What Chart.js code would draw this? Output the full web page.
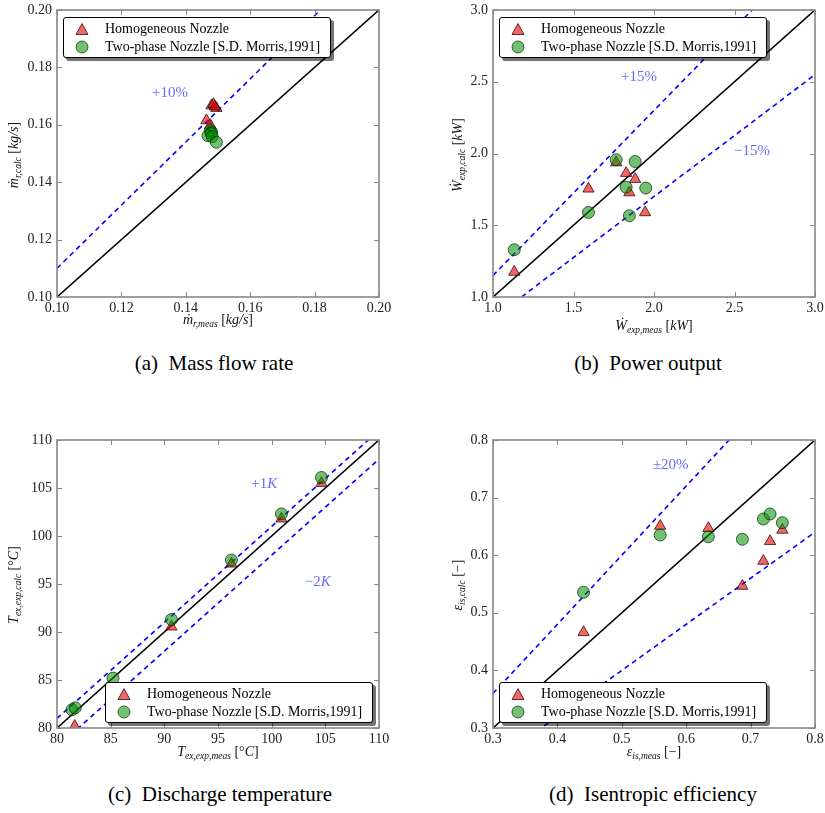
<!DOCTYPE html>
<html>
<head>
<meta charset="utf-8">
<script src="https://cdn.jsdelivr.net/npm/chart.js@4.4.1/dist/chart.umd.min.js"></script>
<style>
    body { margin: 0; background: #fff; }
    #page { position: relative; width: 825px; height: 813px; overflow: hidden; font-family: 'Liberation Serif', serif; }
    .panel { position: absolute; }
    .txt { position: absolute; white-space: nowrap; color: #111; transform: translate(-50%, -50%); }
    .ax { font-size: 14px; }
    .ax i { font-style: italic; }
    .ax sub { font-size: 9.5px; font-style: italic; vertical-align: -3px; line-height: 0; }
    .rot { transform: translate(-50%, -50%) rotate(-90deg); }
    .cap { font-size: 21px; color: #000; }
    .legend { position: absolute; width: 268px; height: 41px; border: 1px solid #000; border-radius: 3px;
              background: #fff; box-shadow: 3px 3px 0 rgba(0, 0, 0, 0.55); font-size: 14px; box-sizing: border-box; }
    .legend .row { position: absolute; left: 0; height: 18px; line-height: 18px; }
    .legend svg { position: absolute; top: 2px; }
    .legend span { position: absolute; left: 41px; top: 0; white-space: nowrap; }
</style>
</head>
<body>
<div id="page"></div>
<script>
// series names
var SERIES = ['Homogeneous Nozzle', 'Two-phase Nozzle [S.D. Morris,1991]'];

// (a) mass flow rate [kg/s]
var aHomMeas = [0.1480, 0.1486, 0.1495, 0.1490, 0.1464, 0.1476];
var aHomCalc = [0.1667, 0.1672, 0.1658, 0.1663, 0.1615, 0.1599];
var aTwoMeas = [0.1476, 0.1480, 0.1478, 0.1469, 0.1482, 0.1495];
var aTwoCalc = [0.1580, 0.1575, 0.1570, 0.1562, 0.1559, 0.1539];
var aTicks = [0.10, 0.12, 0.14, 0.16, 0.18, 0.20];
var aRatios = [1.10];

// (b) power output [kW]
var bHomMeas = [1.765, 1.827, 1.883, 1.847, 1.593, 1.945, 1.132];
var bHomCalc = [1.937, 1.863, 1.821, 1.728, 1.754, 1.589, 1.174];
var bTwoMeas = [1.765, 1.883, 1.827, 1.949, 1.593, 1.847, 1.132];
var bTwoCalc = [1.956, 1.944, 1.765, 1.759, 1.589, 1.566, 1.329];
var bTicks = [1.0, 1.5, 2.0, 2.5, 3.0];
var bRatios = [1.15, 0.85];

// (c) discharge temperature [°C]
var cHomMeas = [81.65, 90.66, 96.25, 100.91, 104.64];
var cHomCalc = [80.20, 90.55, 97.10, 101.80, 105.50];
var cTwoMeas = [81.40, 81.70, 85.22, 90.66, 96.25, 100.91, 104.64];
var cTwoCalc = [81.90, 82.10, 85.20, 91.30, 97.50, 102.30, 106.10];
var cTicks = [80, 85, 90, 95, 100, 105, 110];
var cOffsets = [1, -2];

// (d) isentropic efficiency [-]
var dHomMeas = [0.5596, 0.6345, 0.4406, 0.7302, 0.7493, 0.7198, 0.6872];
var dHomCalc = [0.6507, 0.6467, 0.4661, 0.6241, 0.6438, 0.5899, 0.5465];
var dTwoMeas = [0.5596, 0.6345, 0.4406, 0.7198, 0.7302, 0.7493, 0.6872];
var dTwoCalc = [0.6350, 0.6320, 0.5356, 0.6628, 0.6715, 0.6564, 0.6276];
var dTicks = [0.3, 0.4, 0.5, 0.6, 0.7, 0.8];
var dRatios = [1.2, 0.8];

var FRAME = 'rgb(135,135,135)';
var TEXT_BLUE = 'rgba(40,40,255,0.7)';

function zip(xs, ys) {
    return xs.map(function (x, i) { return {x: x, y: ys[i]}; });
}

// inward tick marks on all four sides + gray frame
var framePlugin = {
    id: 'frame',
    afterDatasetsDraw: function (chart) {
        var ctx = chart.ctx, a = chart.chartArea, len = 5;
        ctx.save();
        ctx.strokeStyle = FRAME;
        ctx.lineWidth = 1;
        chart.scales.x.ticks.forEach(function (t) {
            var px = Math.round(chart.scales.x.getPixelForValue(t.value)) + 0.5;
            ctx.beginPath();
            ctx.moveTo(px, a.bottom); ctx.lineTo(px, a.bottom - len);
            ctx.moveTo(px, a.top); ctx.lineTo(px, a.top + len);
            ctx.stroke();
        });
        chart.scales.y.ticks.forEach(function (t) {
            var py = Math.round(chart.scales.y.getPixelForValue(t.value)) + 0.5;
            ctx.beginPath();
            ctx.moveTo(a.left, py); ctx.lineTo(a.left + len, py);
            ctx.moveTo(a.right, py); ctx.lineTo(a.right - len, py);
            ctx.stroke();
        });
        ctx.lineWidth = 1.6;
        ctx.strokeRect(a.left, a.top, a.right - a.left, a.bottom - a.top);
        ctx.restore();
    }
};

// band labels placed in data coordinates
var notePlugin = {
    id: 'notes',
    afterDatasetsDraw: function (chart, args, opts) {
        var ctx = chart.ctx;
        ctx.save();
        ctx.fillStyle = TEXT_BLUE;
        ctx.textBaseline = 'middle';
        (opts.items || []).forEach(function (n) {
            var px = chart.scales.x.getPixelForValue(n.x);
            var py = chart.scales.y.getPixelForValue(n.y);
            var unit = n.k || '';
            ctx.textAlign = 'left';
            ctx.font = '15px "Liberation Serif"';
            var w1 = ctx.measureText(n.text).width;
            ctx.font = 'italic 15px "Liberation Serif"';
            var w2 = ctx.measureText(unit).width;
            var x0 = px - (w1 + w2) / 2;
            ctx.font = '15px "Liberation Serif"';
            ctx.fillText(n.text, x0, py);
            if (unit) {
                // unit letter in italic like the math text
                ctx.font = 'italic 15px "Liberation Serif"';
                ctx.fillText(unit, x0 + w1, py);
            }
        });
        ctx.restore();
    }
};

function refLine(x0, y0, x1, y1, dashed) {
    return {
        type: 'line', label: '', order: 3,
        data: [{x: x0, y: y0}, {x: x1, y: y1}],
        borderColor: dashed ? '#0000ff' : '#000',
        borderWidth: 1.6,
        borderDash: dashed ? [5, 4] : [],
        pointRadius: 0, fill: false
    };
}

function makePanel(p) {
    var page = document.getElementById('page');
    var div = document.createElement('div');
    div.className = 'panel';
    div.style.left = p.left + 'px';
    div.style.top = p.top + 'px';
    var cv = document.createElement('canvas');
    cv.width = p.w; cv.height = p.h;
    cv.style.width = p.w + 'px'; cv.style.height = p.h + 'px';
    div.appendChild(cv);
    page.appendChild(div);

    var lo = p.ticks[0], hi = p.ticks[p.ticks.length - 1];
    var datasets = [refLine(lo, lo, hi, hi, false)];
    p.lines.forEach(function (l) { datasets.push(refLine(lo, l(lo), hi, l(hi), true)); });
    datasets.push({
        label: SERIES[0], order: 2, data: zip(p.hx, p.hy),
        pointStyle: 'triangle', pointRadius: 6.5, pointHoverRadius: 6.5,
        backgroundColor: 'rgba(235,0,0,0.6)', borderColor: 'rgba(40,0,0,0.75)', borderWidth: 1
    });
    datasets.push({
        label: SERIES[1], order: 1, data: zip(p.tx, p.ty),
        pointStyle: 'circle', pointRadius: 6, pointHoverRadius: 6,
        backgroundColor: 'rgba(0,140,0,0.55)', borderColor: 'rgba(0,40,0,0.7)', borderWidth: 1
    });

    function axis(yw, xh) {
        return {
            type: 'linear', min: lo, max: hi,
            afterBuildTicks: function (s) { s.ticks = p.ticks.map(function (v) { return {value: v}; }); },
            afterFit: function (s) {
                if (yw) { s.width = yw; } else { s.height = xh; }
                s.paddingTop = 0; s.paddingBottom = 0; s.paddingLeft = 0; s.paddingRight = 0;
            },
            ticks: {
                font: {family: 'Liberation Serif', size: 14}, color: '#222', padding: yw ? 5 : 3,
                autoSkip: false, maxRotation: 0,
                callback: function (v) { return Number(v).toFixed(p.dec); }
            },
            grid: {display: false, drawTicks: false},
            border: {display: false}
        };
    }

    return new Chart(cv, {
        type: 'scatter',
        data: {datasets: datasets},
        options: {
            responsive: false, animation: false, devicePixelRatio: 1,
            layout: {padding: {top: 10, right: p.padRight, left: 0, bottom: 0}},
            scales: {x: axis(0, p.xh), y: axis(p.yw, 0)},
            plugins: {legend: {display: false}, tooltip: {enabled: false}, notes: {items: p.notes}}
        },
        plugins: [framePlugin, notePlugin]
    });
}

function ratioLines(rs) { return rs.map(function (r) { return function (x) { return r * x; }; }); }
function offsetLines(ds) { return ds.map(function (d) { return function (x) { return x + d; }; }); }

// plot areas: (a) 57..379 x 10..297, (b) 493..815 x 10..297, (c)/(d) same x, 440..728
makePanel({left: 0, top: 0, w: 395, h: 320, yw: 57, padRight: 16, xh: 23,
    ticks: aTicks, dec: 2, lines: ratioLines(aRatios),
    hx: aHomMeas, hy: aHomCalc, tx: aTwoMeas, ty: aTwoCalc,
    notes: [{x: 0.1351, y: 0.1711, text: '+10%'}]});
makePanel({left: 420, top: 0, w: 405, h: 320, yw: 73, padRight: 10, xh: 23,
    ticks: bTicks, dec: 1, lines: ratioLines(bRatios),
    hx: bHomMeas, hy: bHomCalc, tx: bTwoMeas, ty: bTwoCalc,
    notes: [{x: 1.907, y: 2.533, text: '+15%'}, {x: 2.609, y: 2.017, text: '\u221215%'}]});
makePanel({left: 0, top: 430, w: 395, h: 321, yw: 57, padRight: 16, xh: 23,
    ticks: cTicks, dec: 0, lines: offsetLines(cOffsets),
    hx: cHomMeas, hy: cHomCalc, tx: cTwoMeas, ty: cTwoCalc,
    notes: [{x: 99.3, y: 105.4, text: '+1', k: 'K'}, {x: 104.3, y: 95.2, text: '\u22122', k: 'K'}]});
makePanel({left: 420, top: 430, w: 405, h: 321, yw: 73, padRight: 10, xh: 23,
    ticks: dTicks, dec: 1, lines: ratioLines(dRatios),
    hx: dHomMeas, hy: dHomCalc, tx: dTwoMeas, ty: dTwoCalc,
    notes: [{x: 0.576, y: 0.757, text: '\u00b120%'}]});

// html text: axis titles, captions, legends
function addText(cls, html, x, y) {
    var d = document.createElement('div');
    d.className = 'txt ' + cls;
    d.innerHTML = html;
    d.style.left = x + 'px';
    d.style.top = y + 'px';
    document.getElementById('page').appendChild(d);
}

addText('ax', '<i>\u1E41</i><sub>r,meas</sub> [<i>kg/s</i>]', 218, 320);
addText('ax rot', '<i>\u1E41</i><sub>r,calc</sub> [<i>kg/s</i>]', 14, 155);
addText('ax', '<i>\u1E86</i><sub>exp,meas</sub> [<i>kW</i>]', 654, 326);
addText('ax rot', '<i>\u1E86</i><sub>exp,calc</sub> [<i>kW</i>]', 458, 155);
addText('ax', '<i>T</i><sub>ex,exp,meas</sub> [\u00b0<i>C</i>]', 218, 752);
addText('ax rot', '<i>T</i><sub>ex,exp,calc</sub> [\u00b0<i>C</i>]', 14, 585);
addText('ax', '<i>\u03b5</i><sub>is,meas</sub> [\u2212]', 654, 752);
addText('ax rot', '<i>\u03b5</i><sub>is,calc</sub> [\u2212]', 458, 585);

addText('cap', '(a)&ensp;Mass flow rate', 214, 363);
addText('cap', '(b)&ensp;Power output', 648, 363);
addText('cap', '(c)&ensp;Discharge temperature', 220, 794);
addText('cap', '(d)&ensp;Isentropic efficiency', 653, 794);

var TRI = '<svg width="14" height="14"><polygon points="7,1.5 13,12.5 1,12.5" fill="rgba(235,0,0,0.6)" stroke="rgba(40,0,0,0.75)" stroke-width="1"/></svg>';
var CIR = '<svg width="14" height="14"><circle cx="7" cy="7" r="6" fill="rgba(0,140,0,0.55)" stroke="rgba(0,40,0,0.7)" stroke-width="1"/></svg>';

function addLegend(x, y) {
    var box = document.createElement('div');
    box.className = 'legend';
    box.style.left = x + 'px';
    box.style.top = y + 'px';
    [TRI, CIR].forEach(function (m, i) {
        var row = document.createElement('div');
        row.className = 'row';
        row.style.top = (2 + i * 18) + 'px';
        row.style.width = '100%';
        row.innerHTML = m + '<span>' + SERIES[i] + '</span>';
        row.firstChild.style.left = '11px';
        box.appendChild(row);
    });
    document.getElementById('page').appendChild(box);
}

addLegend(63, 17);
addLegend(499, 17);
addLegend(105, 682);
addLegend(499, 682);
</script>
</body>
</html>
